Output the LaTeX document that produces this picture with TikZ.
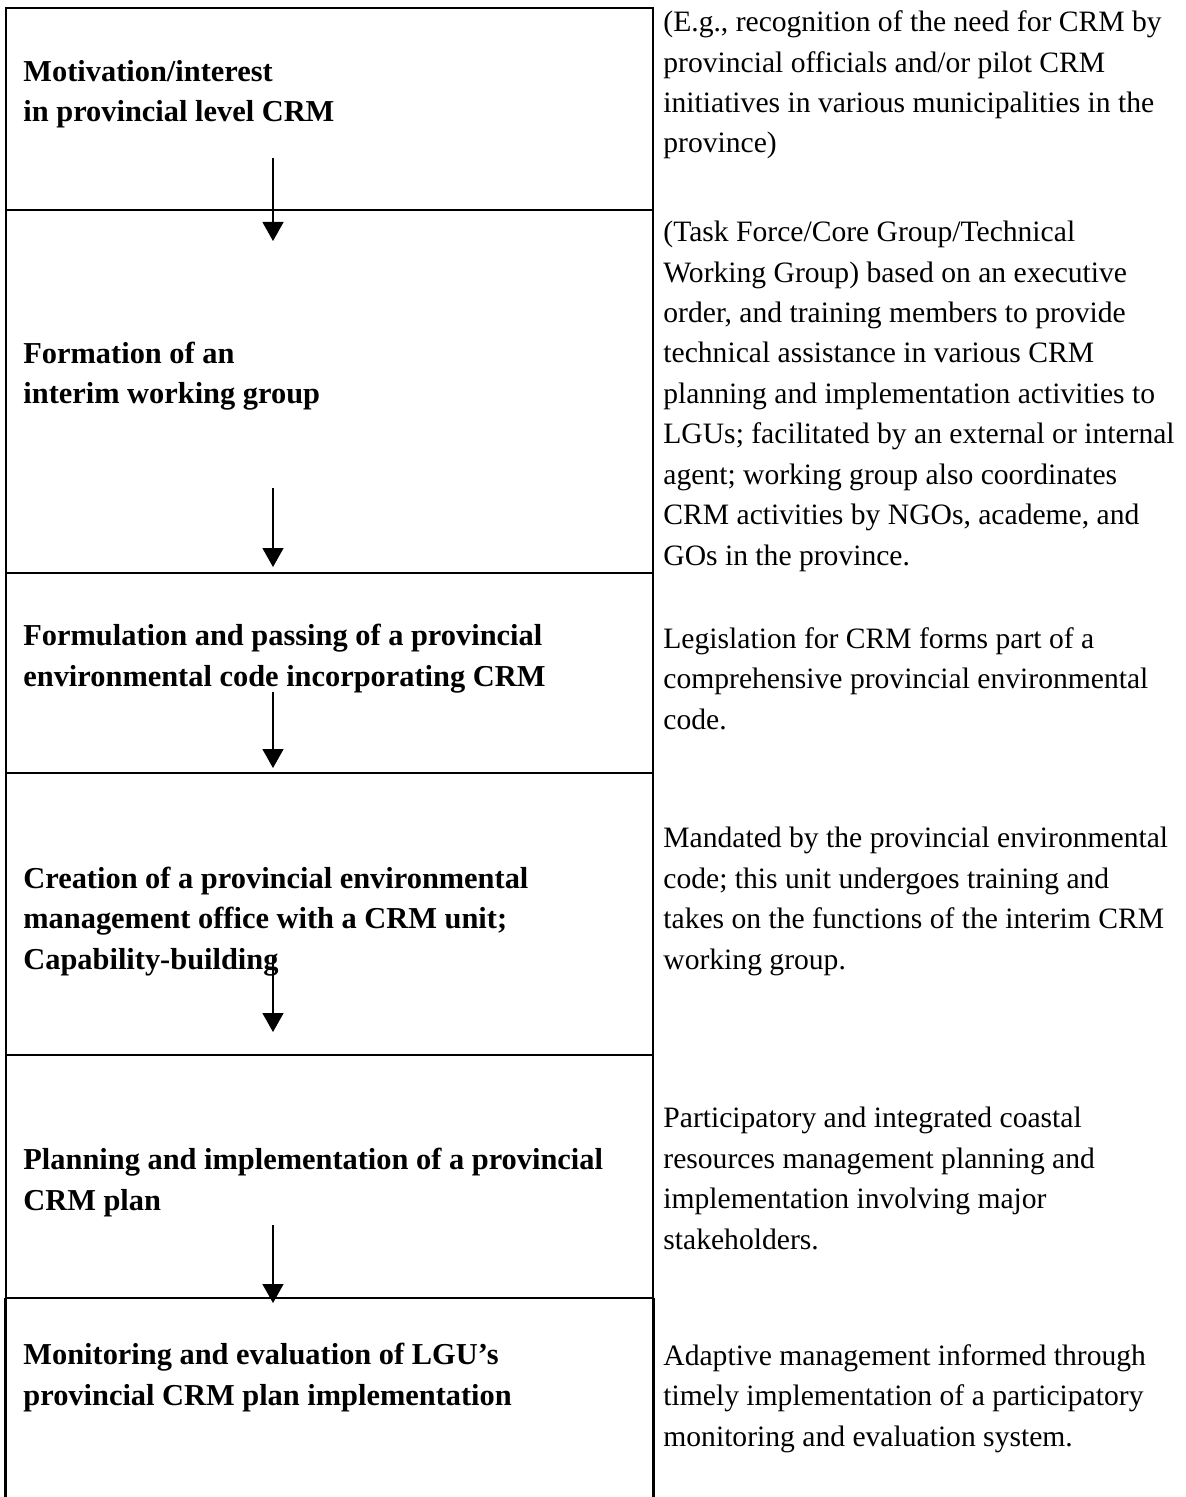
\documentclass[tikz,border=0pt]{standalone}
\usepackage{fontspec}
\setmainfont{Liberation Serif}
\usetikzlibrary{arrows.meta}

\begin{document}
\begin{tikzpicture}[
    x=0.5pt, y=-0.5pt,
    stagebox/.style={rectangle, draw=black, line width=1.4pt, minimum width=323.5pt, inner sep=0pt},
    sidebox/.style={rectangle, minimum width=323.5pt, inner sep=0pt},
    frame/.style={line width=1.4pt},
    steptext/.style={anchor=base west, align=left, inner sep=0pt, font=\fontsize{15.2}{20.2}\selectfont\bfseries},
    notetext/.style={anchor=base west, align=left, inner sep=0pt, font=\fontsize{14.8}{20.2}\selectfont},
    flow/.style={-{Triangle[width=10.5pt,length=9.5pt]}, line width=0.7pt}
]
    \useasboundingbox (0,0) rectangle (1185,1497);

    % Stages (left column)
    \node[stagebox, minimum height=101pt]   (motiv)  at (329.5,109)    {};
    \node[stagebox, minimum height=181.5pt] (form)   at (329.5,391.5)  {};
    \node[stagebox, minimum height=100pt]   (code)   at (329.5,673)    {};
    \node[stagebox, minimum height=141pt]   (office) at (329.5,914)    {};
    \node[stagebox, minimum height=121.5pt] (plan)   at (329.5,1176.5) {};
    \node[sidebox,  minimum height=99.5pt]  (monit)  at (329.5,1397.5) {};
    \draw[frame] (monit.north west) -- (monit.south west);
    \draw[frame] (monit.north east) -- (monit.south east);

    % Stage texts (placed at the baseline of their last line)
    \node[steptext] (motiv_txt)  at (23,122)  {Motivation/interest\\in provincial level CRM};
    \node[steptext] (form_txt)   at (23,404)  {Formation of an\\interim working group};
    \node[steptext] (code_txt)   at (23,686)  {Formulation and passing of a provincial\\environmental code incorporating CRM};
    \node[steptext] (office_txt) at (23,969)  {Creation of a provincial environmental\\management office with a CRM unit;\\Capability-building};
    \node[steptext] (plan_txt)   at (23,1210) {Planning and implementation of a provincial\\CRM plan};
    \node[steptext] (monit_txt)  at (23,1405) {Monitoring and evaluation of LGU’s\\provincial CRM plan implementation};

    % Notes (right column)
    \node[notetext] (motiv_note)  at (663,153)  {(E.g., recognition of the need for CRM by\\provincial officials and/or pilot CRM\\initiatives in various municipalities in the\\province)};
    \node[notetext] (form_note)   at (663,565)  {(Task Force/Core Group/Technical\\Working Group) based on an executive\\order, and training members to provide\\technical assistance in various CRM\\planning and implementation activities to\\LGUs; facilitated by an external or internal\\agent; working group also coordinates\\CRM activities by NGOs, academe, and\\GOs in the province.};
    \node[notetext] (code_note)   at (663,729)  {Legislation for CRM forms part of a\\comprehensive provincial environmental\\code.};
    \node[notetext] (office_note) at (663,969)  {Mandated by the provincial environmental\\code; this unit undergoes training and\\takes on the functions of the interim CRM\\working group.};
    \node[notetext] (plan_note)   at (663,1249) {Participatory and integrated coastal\\resources management planning and\\implementation involving major\\stakeholders.};
    \node[notetext] (monit_note)  at (663,1446) {Adaptive management informed through\\timely implementation of a participatory\\monitoring and evaluation system.};

    % Arrow ends
    \coordinate (motiv_out)  at (273,158);
    \coordinate (form_in)    at (273,241);
    \coordinate (form_out)   at (273,488);
    \coordinate (code_in)    at (273,567);
    \coordinate (code_out)   at (273,692);
    \coordinate (office_in)  at (273,768);
    \coordinate (office_out) at (273,957);
    \coordinate (plan_in)    at (273,1032);
    \coordinate (plan_out)   at (273,1225);
    \coordinate (monit_in)   at (273,1303);

    % Flow arrows
    \draw[flow] (motiv_out)  -- (form_in);
    \draw[flow] (form_out)   -- (code_in);
    \draw[flow] (code_out)   -- (office_in);
    \draw[flow] (office_out) -- (plan_in);
    \draw[flow] (plan_out)   -- (monit_in);

\end{tikzpicture}
\end{document}
